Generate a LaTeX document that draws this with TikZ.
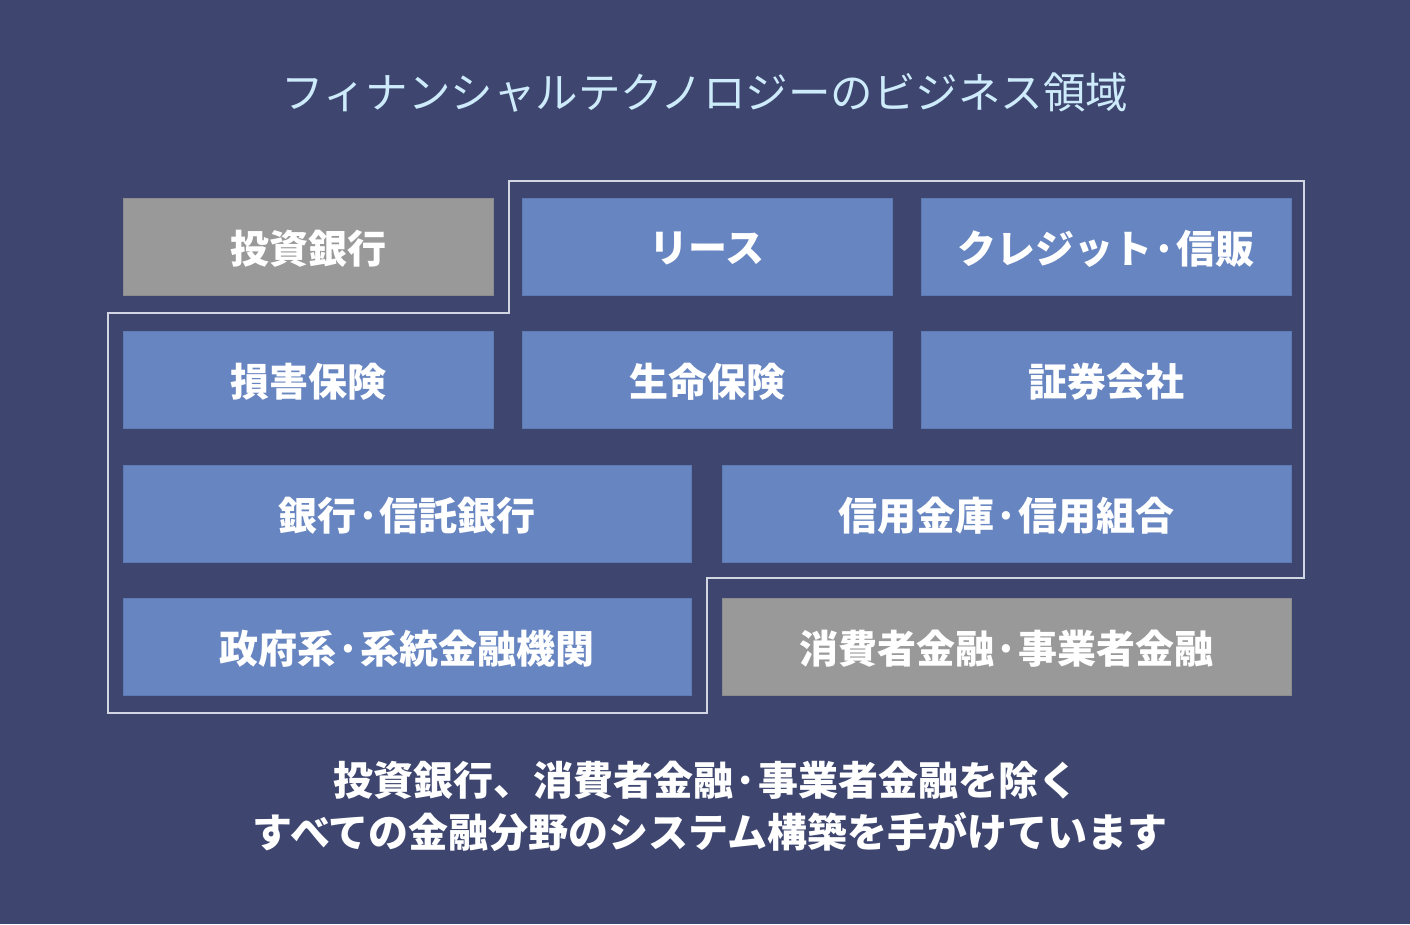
\documentclass[tikz,border=0pt]{standalone}
\usepackage{fontspec}
\newfontfamily\cjk{Noto Sans CJK JP}
\definecolor{bgc}{HTML}{3E4670}
\definecolor{bluebox}{HTML}{6785C1}
\definecolor{bluedge}{HTML}{5E7AB3}
\definecolor{graybox}{HTML}{999999}
\definecolor{grayedge}{HTML}{8C8C90}
\definecolor{titlec}{HTML}{CDEBFA}
\definecolor{outl}{HTML}{D2D5E2}
\tikzset{
  box/.style={inner sep=0pt, font=\cjk\bfseries\fontsize{39}{41}\selectfont, text=white, line width=1pt},
  bluebx/.style={box, fill=bluebox, draw=bluedge},
  graybx/.style={box, fill=graybox, draw=grayedge},
  frameline/.style={draw=outl, line width=2pt},
  bottomtext/.style={font=\cjk\bfseries\fontsize{40}{42}\selectfont, text=white},
}
\newcommand{\bx}[6]{% style,name,x1,y1,x2,y2, then text
  \path[#1] (#3,#4) rectangle (#5,#6);
  \node[#1, draw=none, fill=none] (#2) at ({(#3+#5)/2},{(#4+#6)/2+2})}
\begin{document}
\begin{tikzpicture}[x=1pt,y=-1pt]
\fill[bgc] (0,0) rectangle (1410,924);
\useasboundingbox (0,0) rectangle (1410,924);
\node[font=\cjk\fontsize{42.5}{44}\selectfont, text=titlec] (title) at (705,93) {フィナンシャルテクノロジーのビジネス領域};
% outline
\draw[frameline] (509,181) -- (1304,181) -- (1304,578) -- (707,578) -- (707,713) -- (108,713) -- (108,313) -- (509,313) -- cycle;
% row 1
\bx{graybx}{ib}{123}{198}{493}{295} {投資銀行};
\bx{bluebx}{lease}{522}{198}{892}{295} {リース};
\bx{bluebx}{credit}{921}{198}{1291}{295} {クレジット·信販};
% row 2
\bx{bluebx}{nonlife}{123}{331}{493}{428} {損害保険};
\bx{bluebx}{life}{522}{331}{892}{428} {生命保険};
\bx{bluebx}{sec}{921}{331}{1291}{428} {証券会社};
% row 3
\bx{bluebx}{bank}{123}{465}{691}{562} {銀行·信託銀行};
\bx{bluebx}{shinkin}{722}{465}{1291}{562} {信用金庫·信用組合};
% row 4
\bx{bluebx}{gov}{123}{598}{691}{695} {政府系·系統金融機関};
\bx{graybx}{cons}{722}{598}{1291}{695} {消費者金融·事業者金融};
% bottom text
\node[bottomtext] (l1) at (706,780) {投資銀行、消費者金融·事業者金融を除く};
\node[bottomtext] (l2) at (710,832) {すべての金融分野のシステム構築を手がけています};
\end{tikzpicture}
\end{document}
